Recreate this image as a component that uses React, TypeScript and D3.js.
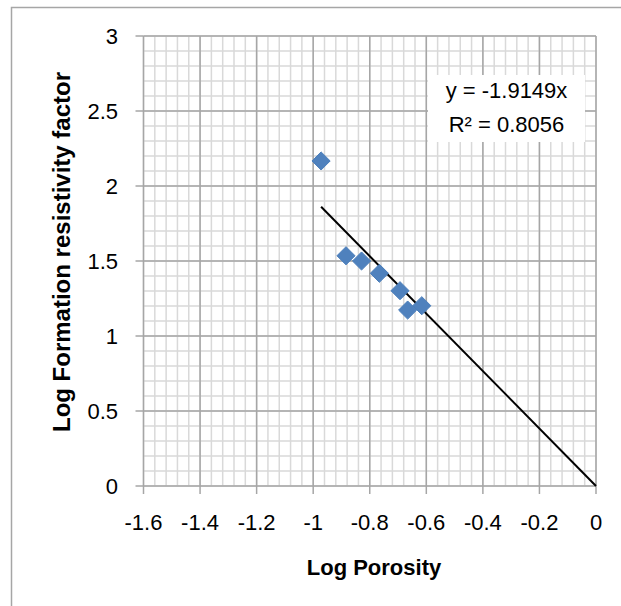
import React from "react";
import * as d3 from "d3";

const logPorosity = [-0.972, -0.884, -0.829, -0.766, -0.693, -0.666, -0.616];
const logFormationFactor = [2.167, 1.535, 1.5, 1.418, 1.302, 1.173, 1.202];
const xTickValues = [-1.6, -1.4, -1.2, -1, -0.8, -0.6, -0.4, -0.2, 0];
const yTickValues = [0, 0.5, 1, 1.5, 2, 2.5, 3];
const trendSlope = -1.9149;
const trendR2 = 0.8056;

const W = 621;
const H = 606;
const FONT = "'Liberation Sans', Arial, sans-serif";

export default function App() {
  const x = d3.scaleLinear().domain([-1.6, 0]).range([143.5, 596]);
  const y = d3.scaleLinear().domain([0, 3]).range([486, 36]);

  const minorX = d3.range(0, 41).map((i) => -1.6 + i * 0.04);
  const minorY = d3.range(0, 31).map((i) => i * 0.1);

  const xMin = d3.min(logPorosity) as number;
  const trend = [
    [xMin, trendSlope * xMin],
    [0, 0],
  ];
  const line = d3
    .line<number[]>()
    .x((d) => x(d[0]))
    .y((d) => y(d[1]));

  const diamond = d3.symbol().type(d3.symbolDiamond2).size(210)();

  const fmt = (v: number) => String(v);

  return (
    <svg
      width={W}
      height={H}
      style={{ position: "absolute", left: 0, top: 0, background: "#fff" }}
    >
      <rect x={0} y={0} width={W} height={H} fill="#fff" />
      {/* outer chart border (clipped at right/bottom) */}
      <rect x={11.5} y={7.5} width={W + 20} height={H + 20} fill="none" stroke="#a6a6a6" strokeWidth={1.5} />

      {/* minor grid */}
      <g stroke="#d9d9d9" strokeWidth={1.5}>
        {minorX.map((v, i) => (
          <line key={"mx" + i} x1={x(v)} x2={x(v)} y1={y(3)} y2={y(0)} />
        ))}
        {minorY.map((v, i) => (
          <line key={"my" + i} x1={x(-1.6)} x2={x(0)} y1={y(v)} y2={y(v)} />
        ))}
      </g>
      {/* major grid */}
      <g stroke="#a6a6a6" strokeWidth={1.5}>
        {xTickValues.map((v, i) => (
          <line key={"Mx" + i} x1={x(v)} x2={x(v)} y1={y(3)} y2={y(0)} />
        ))}
        {yTickValues.map((v, i) => (
          <line key={"My" + i} x1={x(-1.6)} x2={x(0)} y1={y(v)} y2={y(v)} />
        ))}
      </g>
      {/* tick marks */}
      <g stroke="#a6a6a6" strokeWidth={1.5}>
        {xTickValues.map((v, i) => (
          <line key={"tx" + i} x1={x(v)} x2={x(v)} y1={y(0)} y2={y(0) + 8} />
        ))}
        {yTickValues.map((v, i) => (
          <line key={"ty" + i} x1={x(-1.6) - 8} x2={x(-1.6)} y1={y(v)} y2={y(v)} />
        ))}
      </g>

      {/* tick labels */}
      <g fontFamily={FONT} fontSize={22} fill="#000">
        {xTickValues.map((v, i) => (
          <text key={"lx" + i} x={x(v)} y={530} textAnchor="middle">
            {fmt(v)}
          </text>
        ))}
        {yTickValues.map((v, i) => (
          <text key={"ly" + i} x={118} y={y(v) + 8} textAnchor="end">
            {fmt(v)}
          </text>
        ))}
      </g>

      {/* axis titles */}
      <text
        x={374}
        y={575}
        textAnchor="middle"
        fontFamily={FONT}
        fontSize={22}
        fontWeight="bold"
      >
        Log Porosity
      </text>
      <text
        transform={`translate(70,252) rotate(-90)`}
        textAnchor="middle"
        fontFamily={FONT}
        fontSize={24}
        fontWeight="bold"
      >
        Log Formation resistivity factor
      </text>

      {/* trendline */}
      <path d={line(trend) || ""} fill="none" stroke="#000" strokeWidth={2} />

      {/* points */}
      <g>
        {logPorosity.map((v, i) => (
          <path
            key={"p" + i}
            d={diamond || ""}
            transform={`translate(${x(v)},${y(logFormationFactor[i])})`}
            fill="#4f81bd"
            stroke="#4a7ebb"
            strokeWidth={1}
          />
        ))}
      </g>

      {/* equation label */}
      <rect x={428} y={75} width={157} height={67} fill="#fff" />
      <g fontFamily={FONT} fontSize={22} fill="#000" textAnchor="middle">
        <text x={506.5} y={98}>{`y = ${trendSlope}x`}</text>
        <text x={506.5} y={132}>{`R² = ${trendR2}`}</text>
      </g>
    </svg>
  );
}
